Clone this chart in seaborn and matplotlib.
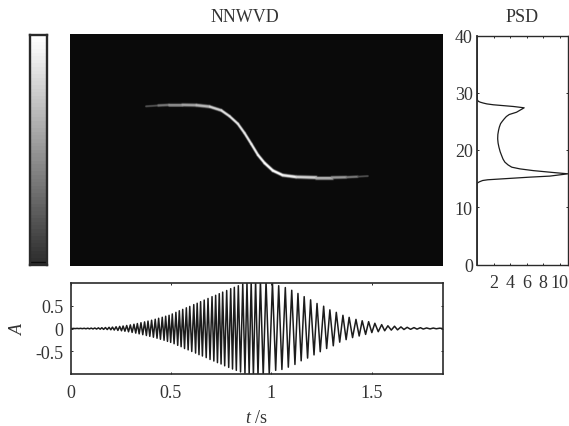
#!/usr/bin/env python3
"""
NNWVD time-frequency map with signal, PSD and grey scale bar
"""

import numpy as np
import pandas as pd
import matplotlib
matplotlib.use("Agg")
import matplotlib.pyplot as plt
import seaborn as sns

# signal: extrema, time in s
peak_t = [.015, .033, .050, .068, .086, .103, .121, .139, .156, .174, .192, .209, .227, .245, .262, .280,
          .298, .316, .333, .351, .369, .386, .404, .422, .439, .457, .474, .491, .507, .525, .542, .559,
          .577, .594, .614, .631, .648, .666, .685, .705, .723, .741, .758, .778, .798, .816, .836, .858,
          .879, .900, .922, .946, .974, 1.006, 1.037, 1.070, 1.102, 1.133, 1.164, 1.196, 1.228, 1.261,
          1.292, 1.324, 1.357, 1.388, 1.422, 1.453, 1.485, 1.516, 1.550, 1.581, 1.614, 1.646, 1.677,
          1.711, 1.743, 1.774, 1.807, 1.839]
peak_a = [.002, .003, .004, .005, .007, .009, .011, .014, .017, .021, .026, .031, .038, .046, .055, .066,
          .079, .093, .109, .127, .145, .163, .182, .203, .225, .247, .27, .29, .32, .355, .39, .42,
          .455, .485, .525, .555, .59, .625, .66, .70, .73, .765, .80, .835, .875, .905, .94, .98,
          1.01, 1.02, 1.04, 1.05, 1.04, 1.0, .94, .90, .84, .77, .70, .63, .55, .49,
          .41, .355, .29, .245, .20, .17, .15, .115, .085, .06, .05, .035, .026,
          .02, .018, .012, .01, .007]
trough_t = [.006, .024, .042, .059, .077, .095, .112, .130, .148, .165, .183, .201, .218, .236, .254, .271,
            .289, .307, .325, .342, .360, .378, .395, .413, .431, .448, .466, .483, .499, .516, .534, .551,
            .568, .586, .604, .623, .640, .657, .676, .695, .714, .732, .750, .768, .788, .807, .826, .847,
            .869, .890, .911, .934, .960, .990, 1.022, 1.053, 1.085, 1.118, 1.149, 1.181, 1.213, 1.244,
            1.276, 1.309, 1.341, 1.373, 1.405, 1.438, 1.470, 1.501, 1.533, 1.565, 1.598, 1.629, 1.661,
            1.694, 1.726, 1.757, 1.791, 1.822]
trough_a = [-.002, -.002, -.003, -.004, -.006, -.008, -.010, -.012, -.015, -.019, -.023, -.028, -.034, -.042, -.050, -.060,
            -.072, -.086, -.101, -.118, -.136, -.154, -.172, -.192, -.214, -.236, -.259, -.283, -.305, -.335, -.37, -.40,
            -.44, -.47, -.505, -.54, -.575, -.605, -.64, -.68, -.715, -.75, -.78, -.82, -.855, -.89, -.92, -.955,
            -.985, -1.01, -1.03, -1.04, -1.04, -1.0, -.92, -.90, -.85, -.79, -.71, -.65, -.58, -.51,
            -.44, -.38, -.30, -.245, -.20, -.165, -.13, -.09, -.07, -.05, -.035, -.03, -.022,
            -.018, -.014, -.012, -.009, -.006]

# PSD curve
psd_f = [0, 14.0, 14.2, 14.3, 14.45, 14.67, 14.8, 14.97, 15.26, 15.44, 15.84, 16.07, 16.4, 16.7, 17.0, 17.4,
         17.88, 18.4, 19.05, 19.7, 20.5, 21.2, 21.95, 22.7, 23.4, 24.0, 24.6, 25.0, 25.45, 25.85, 26.2, 26.6,
         27.37, 27.6, 27.9, 28.05, 28.2, 28.35, 28.5, 28.8, 40]
psd_v = [0, 0, .04, .12, .3, .68, 1.3, 3.17, 6.4, 8.8, 11.0, 9.2, 6.8, 5.2, 4.2, 3.75,
         3.37, 3.15, 2.97, 2.8, 2.65, 2.55, 2.5, 2.52, 2.6, 2.7, 2.85, 3.05, 3.3, 3.55, 3.9, 4.78,
         5.7, 4.4, 1.97, 1.2, .76, .4, .16, .03, 0]

# ridge in the time-frequency map
ridge_t = [.38, .44, .496, .56, .629, .695, .753, .794, .835, .868, .902, .935, .968, 1.009, 1.058,
           1.125, 1.224, 1.30, 1.373, 1.43, 1.48]
ridge_f = [27.5, 27.65, 27.75, 27.75, 27.7, 27.45, 26.8, 25.8, 24.5, 22.9, 21.0, 19.1, 17.7, 16.4, 15.6,
           15.3, 15.2, 15.2, 15.25, 15.35, 15.45]
ridge_level = [.24, .40, .52, .60, .66, .76, .86, .90, .90, .90, .92, .95, .98, 1.0, .98,
               .88, .74, .64, .54, .40, .22]
ridge_width = [1.6, 2.4, 3.0, 3.2, 3.4, 3.2, 2.8, 2.6, 2.6, 2.6, 2.6, 2.6, 2.8, 3.0, 3.0,
               3.4, 3.4, 3.2, 2.8, 2.2, 1.6]
background_level = [[.04]]

# grey scale bar, top to bottom (64 grey steps)
bar_levels = [1.0, .99, .98, .97, .96, .945, .93, .92, .905, .89, .88, .865, .85, .84, .825, .81,
              .80, .785, .77, .76, .745, .73, .72, .705, .69, .68, .665, .65, .64, .625, .61, .60,
              .585, .57, .56, .545, .53, .52, .505, .49, .48, .465, .45, .44, .425, .41, .40, .385,
              .37, .36, .345, .33, .32, .305, .29, .28, .265, .25, .24, .225, .21, .20, .19, .18]

time_ticks = [0, .5, 1, 1.5]
time_labels = ["0", "0.5", "1", "1.5"]
amp_ticks = [-.5, 0, .5]
amp_labels = ["-0.5", "0", "0.5"]
freq_ticks = [0, 10, 20, 30, 40]
psd_ticks = [2, 4, 6, 8, 10]
bar_ticks = [.5, 1.5, 2.5, 3.5, 4.5, 5.5]

W, H = 569, 427
T_MAX = 1.853
INK = "#2a2a2a"
TEXT = "#333333"
FONT = 13

sns.set_theme(style="ticks")
plt.rcParams["font.family"] = ["Liberation Serif", "DejaVu Serif"]
plt.rcParams["mathtext.fontset"] = "custom"
plt.rcParams["mathtext.it"] = "Liberation Serif:italic"
plt.rcParams["mathtext.rm"] = "Liberation Serif"
plt.rcParams["axes.unicode_minus"] = False


def box(fig, left, top, right, bottom, **kw):
    """axes from pixel edges"""
    return fig.add_axes([left / W, 1 - bottom / H, (right - left) / W, (bottom - top) / H], **kw)


def style_axes(ax, lw=1.0):
    for s in ax.spines.values():
        s.set_visible(True)
        s.set_linewidth(lw)
        s.set_color(INK)
    ax.tick_params(direction="in", top=True, right=True, length=1.6, width=0.7, color=INK,
                   labelsize=FONT, labelcolor=TEXT, pad=5)


def draw_scale_bar(ax):
    n = len(bar_levels)
    sns.heatmap(np.array(bar_levels).reshape(-1, 1), ax=ax, cmap="gray", vmin=0, vmax=1,
                cbar=False, xticklabels=False, yticklabels=False)
    style_axes(ax, 1.7)
    ax.set_xticks([])
    scale = n / 6.42
    ax.set_yticks([t * scale for t in bar_ticks])
    ax.set_yticklabels([])
    ax.tick_params(left=True, right=True, length=1.5, width=0.7, color="#555555")
    # thin dark band at the foot of the bar
    ax.axhline(n * 0.988, color="#0c0c0c", linewidth=1.0)


def draw_map(fig, ax):
    sns.heatmap(background_level, ax=ax, cmap="gray", vmin=0, vmax=1,
                cbar=False, xticklabels=False, yticklabels=False)
    for s in ax.spines.values():
        s.set_visible(False)

    # ridge goes in a clear axes on top, with real time/frequency scales
    over = fig.add_axes(ax.get_position(), facecolor="none")
    bg = background_level[0][0]
    for spread, frac in [(1.45, .14), (1.15, .36), (.85, .68), (.55, 1.0)]:
        for i in range(len(ridge_t) - 1):
            seg = pd.DataFrame({"t": ridge_t[i:i + 2], "f": ridge_f[i:i + 2]})
            level = (ridge_level[i] + ridge_level[i + 1]) / 2
            width = (ridge_width[i] + ridge_width[i + 1]) / 2 * spread * 0.72
            grey = bg + (level - bg) * frac
            sns.lineplot(data=seg, x="t", y="f", ax=over, color=str(grey), linewidth=width,
                         sort=False, estimator=None, solid_capstyle="round")
    over.set_xlim(0, T_MAX)
    over.set_ylim(0, 40)
    over.axis("off")


def draw_signal(ax):
    sig_t = [0] + peak_t + trough_t + [T_MAX]
    sig_a = [0] + peak_a + trough_a + [0]
    df = pd.DataFrame({"t": sig_t, "a": sig_a}).sort_values("t")
    sns.lineplot(data=df, x="t", y="a", ax=ax, color="#1c1c1c", linewidth=1.1, sort=False, estimator=None)
    ax.set_xlim(0, T_MAX)
    ax.set_ylim(-1, 1)
    style_axes(ax, 1.2)
    ax.set_xticks(time_ticks)
    ax.set_xticklabels(time_labels)
    ax.set_yticks(amp_ticks)
    ax.set_yticklabels(amp_labels)
    ax.tick_params(axis="x", pad=7)
    ax.set_xlabel(r"$t$ /s", fontsize=FONT, color=TEXT, labelpad=6)
    ax.set_ylabel("A", fontsize=FONT, style="italic", color=TEXT, labelpad=6)


def draw_psd(ax):
    df = pd.DataFrame({"v": psd_v, "f": psd_f})
    sns.lineplot(data=df, x="v", y="f", ax=ax, color="#1c1c1c", linewidth=0.9, sort=False, estimator=None)
    ax.set_xlim(0, 11)
    ax.set_ylim(0, 40)
    style_axes(ax, 1.0)
    ax.spines["left"].set_linewidth(1.3)
    ax.set_xticks(psd_ticks)
    ax.set_yticks(freq_ticks)
    ax.set_xlabel("")
    ax.set_ylabel("")
    ax.tick_params(axis="y", pad=3)
    ax.tick_params(axis="x", pad=7)


def main():
    assert len(peak_t) == len(peak_a) and len(trough_t) == len(trough_a)
    assert len(psd_f) == len(psd_v)

    fig = plt.figure(figsize=(W / 100, H / 100), facecolor="white")

    draw_scale_bar(box(fig, 30, 35.5, 47, 266))
    ax_map = box(fig, 69.5, 35, 443, 266.5)
    draw_map(fig, ax_map)
    draw_signal(box(fig, 70.5, 284, 442.5, 375))
    draw_psd(box(fig, 477, 36.5, 568, 265.5))

    fig.text(245 / W, 1 - 18 / H, "NNWVD", fontsize=FONT, color=TEXT, ha="center", va="center")
    fig.text(522 / W, 1 - 18 / H, "PSD", fontsize=FONT, color=TEXT, ha="center", va="center")

    fig.savefig("out.png", dpi=100, facecolor="white")
    plt.close(fig)


if __name__ == "__main__":
    main()
